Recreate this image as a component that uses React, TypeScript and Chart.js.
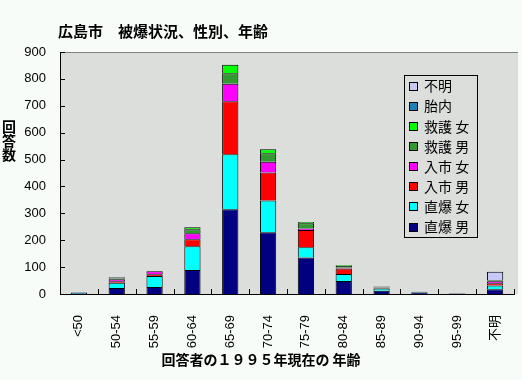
import React, { useEffect, useRef } from "react";
import { Chart, registerables } from "chart.js";
Chart.register(...registerables);

const categories = ["<50", "50-54", "55-59", "60-64", "65-69", "70-74", "75-79", "80-84", "85-89", "90-94", "95-99", "不明"];

const directMale = [null, 22, 26, 89, 315, 230, 136, 48, 12, 5, 2, 18];
const directFemale = [null, 20, 41, 89, 205, 118, 38, 26, 8, 2, 1, 14];
const entryMale = [null, 5, 6, 26, 197, 104, 64, 21, 3, 1, 1, 8];
const entryFemale = [null, 8, 12, 22, 65, 40, 6, 3, 2, null, null, 7];
const reliefMale = [null, 3, null, 15, 39, 31, 19, 7, 3, null, null, 3];
const reliefFemale = [null, 2, null, 7, 32, 15, 5, 3, 1, null, null, 2];
const inUtero = [6, null, null, null, null, null, null, null, null, null, null, null];
const unknown = [null, 3, null, null, null, null, null, null, null, null, null, 31];

const seriesNames = ["直爆 男", "直爆 女", "入市 男", "入市 女", "救護 男", "救護 女", "胎内", "不明"];
const seriesData = [directMale, directFemale, entryMale, entryFemale, reliefMale, reliefFemale, inUtero, unknown];
const seriesColors = ["#000080", "#00FFFF", "#FF0000", "#FF00FF", "#339933", "#00FF00", "#1E80B4", "#C8C8F8"];

const yMax = 900;
const yStep = 100;

const titleText = "広島市　被爆状況、性別、年齢";
const xTitleText = "回答者の１９９５年現在の 年齢";
const yTitleChars = ["回", "答", "数"];

const pageBg = "#F8FCF8";
const plotBg = "#DCDEDC";
const cjk = "'Noto Sans CJK JP', sans-serif";
const tickFont = "'Liberation Sans', 'Noto Sans CJK JP', sans-serif";

export default function App() {
  const ref = useRef<HTMLCanvasElement>(null);
  useEffect(() => {
    document.body.style.margin = "0";
    const canvas = ref.current;
    if (!canvas) return;

    const deco = {
      id: "deco",
      beforeDraw(chart: any) {
        const ctx = chart.ctx;
        const { left, top, right, bottom } = chart.chartArea;
        ctx.save();
        ctx.fillStyle = pageBg;
        ctx.fillRect(0, 0, chart.width, chart.height);
        ctx.fillStyle = plotBg;
        ctx.fillRect(left, top, right - left + 4, bottom - top);
        ctx.strokeStyle = "#808080";
        ctx.lineWidth = 1;
        ctx.beginPath();
        ctx.moveTo(left, Math.round(top) + 0.5);
        ctx.lineTo(right + 4, Math.round(top) + 0.5);
        ctx.stroke();
        ctx.restore();
      },
      afterDraw(chart: any) {
        const ctx = chart.ctx;
        const { left, bottom } = chart.chartArea;
        const xs = chart.scales.x;
        const ys = chart.scales.y;
        ctx.save();
        ctx.strokeStyle = "#000";
        ctx.lineWidth = 1;
        ctx.beginPath();
        for (let v = 0; v <= yMax; v += yStep) {
          const y = Math.round(ys.getPixelForValue(v)) + 0.5;
          ctx.moveTo(left, y);
          ctx.lineTo(left + 5, y);
        }
        const half = (xs.getPixelForValue(1) - xs.getPixelForValue(0)) / 2;
        for (let i = 0; i <= categories.length; i++) {
          const x = Math.round(xs.getPixelForValue(i) - half) + 0.5;
          ctx.moveTo(x, bottom);
          ctx.lineTo(x, bottom - 5);
        }
        ctx.stroke();

        // category labels (rotated, reading upward, end aligned at top)
        ctx.fillStyle = "#000";
        ctx.font = `13px ${tickFont}`;
        ctx.textAlign = "right";
        ctx.textBaseline = "middle";
        categories.forEach((c, i) => {
          const x = xs.getPixelForValue(i);
          ctx.save();
          ctx.translate(x, 315);
          ctx.rotate(-Math.PI / 2);
          ctx.fillText(c, 0, 0);
          ctx.restore();
        });

        // titles
        ctx.fillStyle = "#000";
        ctx.textBaseline = "middle";
        ctx.font = `bold 15px ${cjk}`;
        ctx.textAlign = "left";
        ctx.fillText(titleText, 58, 31);
        ctx.font = `bold 14px ${cjk}`;
        ctx.textAlign = "center";
        ctx.fillText(xTitleText, 261, 360);
        yTitleChars.forEach((c, i) => ctx.fillText(c, 9, 127 + i * 14));

        // legend
        const lx = 404, ly = 75, lw = 73, lh = 162;
        ctx.fillStyle = plotBg;
        ctx.fillRect(lx, ly, lw, lh);
        ctx.strokeStyle = "#000";
        ctx.strokeRect(lx + 0.5, ly + 0.5, lw, lh);
        ctx.font = `14px ${cjk}`;
        ctx.textAlign = "left";
        const n = seriesNames.length;
        for (let k = 0; k < n; k++) {
          const idx = n - 1 - k;
          const cy = 86 + k * 20.15;
          const sy = Math.round(cy - 4.5);
          ctx.fillStyle = seriesColors[idx];
          ctx.fillRect(409, sy, 9, 9);
          ctx.strokeRect(409.5, sy + 0.5, 8, 8);
          ctx.fillStyle = "#000";
          ctx.fillText(seriesNames[idx], 424, cy);
        }
        ctx.restore();
      },
    };

    const chart = new Chart(canvas, {
      type: "bar",
      data: {
        labels: categories,
        datasets: seriesNames.map((name, i) => ({
          label: name,
          data: seriesData[i],
          backgroundColor: seriesColors[i],
          borderColor: "#000",
          borderWidth: 1,
          categoryPercentage: 1,
          barPercentage: 0.43,
        })),
      },
      options: {
        animation: false,
        responsive: false,
        maintainAspectRatio: false,
        layout: { padding: { top: 52, right: 8, left: 0, bottom: 0 } },
        plugins: { legend: { display: false }, tooltip: { enabled: false }, title: { display: false } },
        scales: {
          x: {
            stacked: true,
            grid: { display: false, drawTicks: false },
            border: { color: "#000", width: 1 },
            ticks: { display: false, autoSkip: false },
            afterFit(scale: any) {
              scale.height = 86;
            },
          },
          y: {
            stacked: true,
            min: 0,
            max: yMax,
            grid: { display: false, drawTicks: false },
            border: { color: "#000", width: 1 },
            ticks: {
              stepSize: yStep,
              font: { family: tickFont, size: 13 },
              color: "#000",
              padding: 14,
            },
            afterFit(scale: any) {
              scale.width = 60;
            },
          },
        },
      },
      plugins: [deco],
    });
    return () => chart.destroy();
  }, []);

  return (
    <div style={{ position: "absolute", left: 0, top: 0, width: 522, height: 380, background: pageBg }}>
      <canvas ref={ref} width={522} height={380} style={{ width: 522, height: 380, display: "block" }} />
    </div>
  );
}
